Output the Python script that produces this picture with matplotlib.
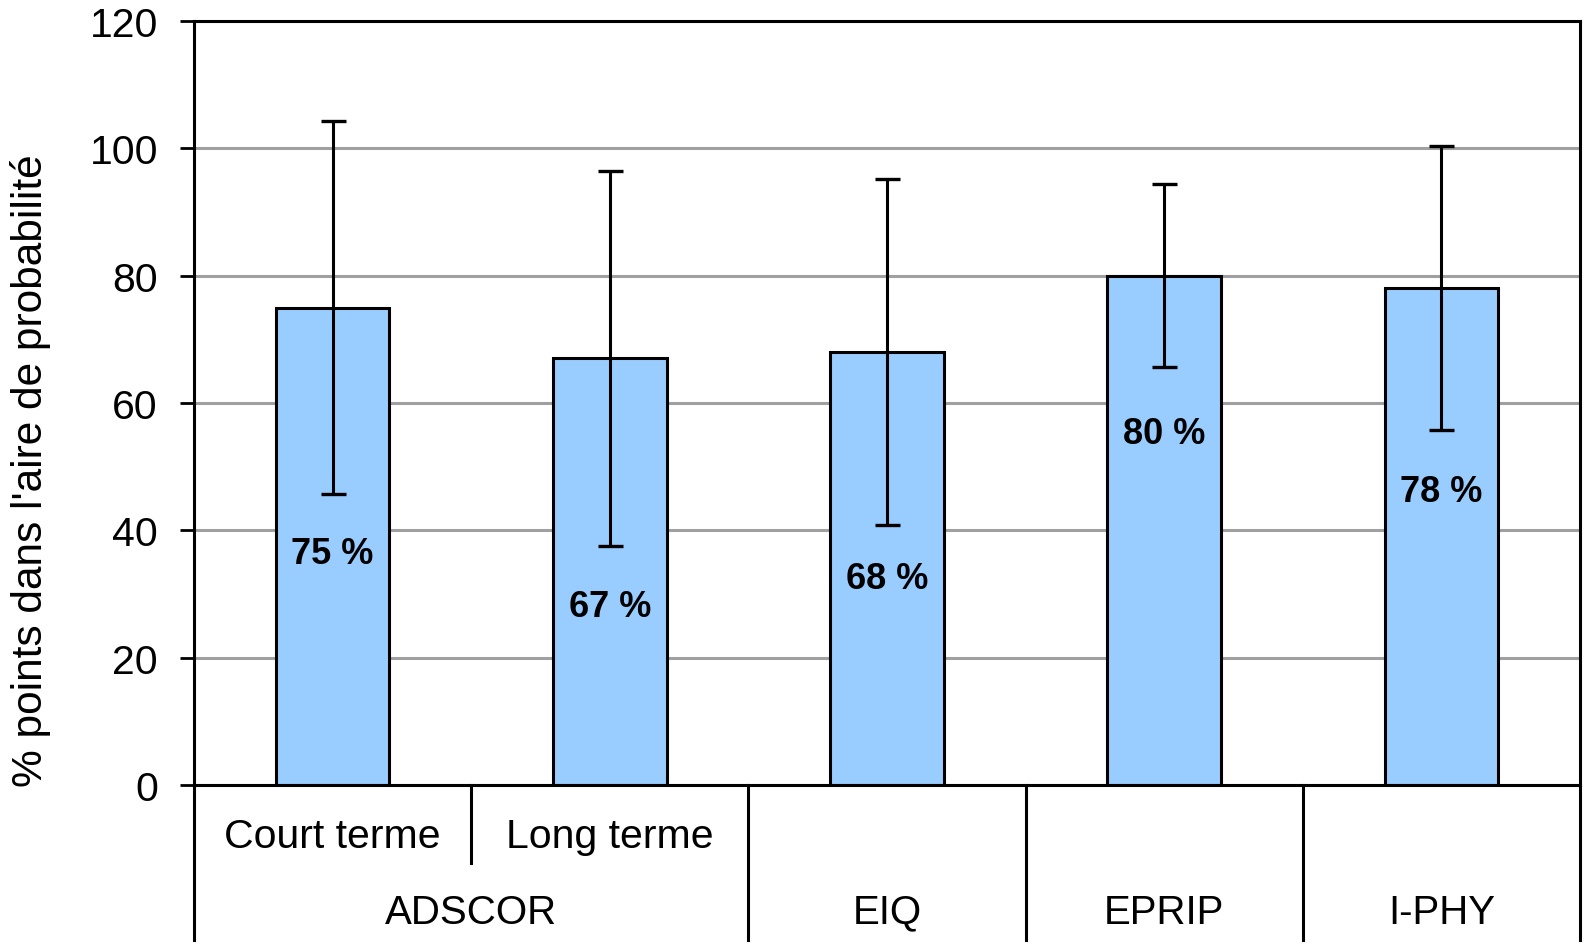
import matplotlib
matplotlib.use('Agg')
import matplotlib.pyplot as plt
import matplotlib.transforms as mtransforms
import numpy as np

plt.rcParams['font.family'] = ['Liberation Sans', 'DejaVu Sans']

# data
sub_labels = ["Court terme", "Long terme"]
groups = ["ADSCOR", "EIQ", "EPRIP", "I-PHY"]
group_span = [2, 1, 1, 1]
values = [75, 67, 68, 80, 78.1]
errors = [29.3, 29.4, 27.2, 14.4, 22.3]
value_labels = ["75 %", "67 %", "68 %", "80 %", "78 %"]
label_y = [36.4, 28.1, 32.4, 55.2, 46.1]
yticks = [0, 20, 40, 60, 80, 100, 120]

fig = plt.figure(figsize=(15.85, 9.45), dpi=100)
ax = fig.add_axes([194 / 1585, 1 - 786 / 945, 1386 / 1585, 764 / 945])

x = np.arange(len(values))
ax.set_axisbelow(True)
ax.yaxis.grid(True, color='#a0a0a0', linewidth=2.2)
ax.bar(x, values, width=0.41, color='#99ccff', edgecolor='black', linewidth=2.2, zorder=2)
ax.errorbar(x, values, yerr=errors, fmt='none', ecolor='black', elinewidth=2.2,
            capsize=9, capthick=2.4, zorder=3)
for xi, yi, t in zip(x, label_y, value_labels):
    ax.text(xi, yi, t, ha='center', va='center', fontsize=26, fontweight='bold', zorder=4)

ax.set_xlim(-0.5, len(values) - 0.5)
ax.set_ylim(0, 120)
ax.set_yticks(yticks)
ax.tick_params(axis='y', labelsize=29.5, length=10, width=2, pad=16, direction='out')
ax.set_xticks([])
for s in ax.spines.values():
    s.set_linewidth(2.2)
    s.set_color('black')

# y label (narrow face, as in the original)
fig.text(31 / 1585, 1 - 471 / 945, "% points dans l'aire de probabilité",
         rotation=90, ha='center', va='center', fontsize=30.5,
         family=['Liberation Sans Narrow', 'Liberation Sans', 'DejaVu Sans'])

# multi-level category axis
trans = mtransforms.blended_transform_factory(ax.transData, ax.transAxes)
bounds = [-0.5]
for span in group_span:
    bounds.append(bounds[-1] + span)
for b in bounds:
    ax.plot([b, b], [0, -0.203], color='black', linewidth=2.2, transform=trans, clip_on=False)
ax.plot([0.5, 0.5], [0, -0.102], color='black', linewidth=2.2, transform=trans, clip_on=False)

for i, t in enumerate(sub_labels):
    ax.text(i, -0.067, t, ha='center', va='center', fontsize=29.5, transform=trans)
for g, lo, hi in zip(groups, bounds[:-1], bounds[1:]):
    ax.text((lo + hi) / 2, -0.166, g, ha='center', va='center', fontsize=29, transform=trans)

fig.savefig('out.png', dpi=100)
